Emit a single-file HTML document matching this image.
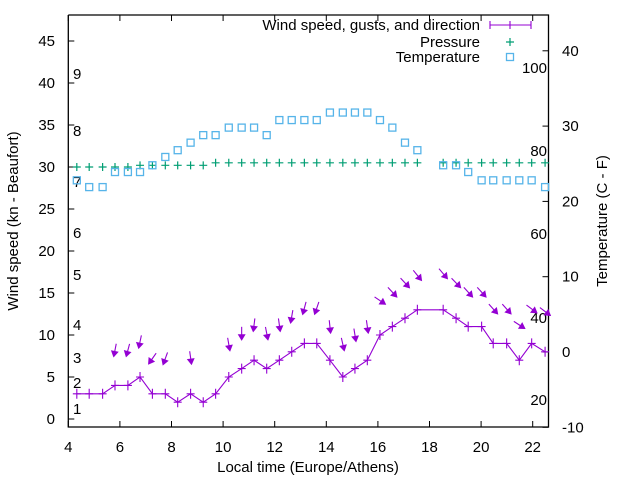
<!DOCTYPE html>
<html><head><meta charset="utf-8"><style>
html,body{margin:0;padding:0;background:#fff}
svg{display:block;font-family:"Liberation Sans",sans-serif}
</style></head><body>
<svg id="chart" width="640" height="480" viewBox="0 0 640 480" xmlns="http://www.w3.org/2000/svg"></svg>
<script>
const hours=[4.33,4.81,5.33,5.81,6.31,6.78,7.26,7.76,8.24,8.74,9.23,9.71,10.22,10.72,11.2,11.69,12.18,12.66,13.15,13.63,14.14,14.64,15.11,15.59,16.08,16.56,17.05,17.53,18.53,19.03,19.5,20.02,20.47,20.99,21.48,21.96,22.48];
const windSpeed=[3,3,3,4,4,5,3,3,2,3,2,3,5,6,7,6,7,8,9,9,7,5,6,7,10,11,12,13,13,12,11,11,9,9,7,9,8];
const gusts=[null,null,null,8.2,8.2,9.2,7.2,7.2,null,7.3,null,null,8.9,10.2,11.2,10.2,11.2,12.2,13.2,13.2,11,8.9,10,11,14.1,15.1,16.2,17.1,17.3,16.2,15.1,15.1,13.1,13.1,11.2,13.1,12.8];
const windDir=[0,0,0,11,15,12,35,20,0,352,0,0,350,0,7,349,352,10,15,19,354,347,351,352,304,317,317,321,320,316,318,318,318,318,303,307,307];
const pressure=[30.0,30.0,30.0,30.0,30.0,30.2,30.2,30.2,30.2,30.2,30.2,30.5,30.5,30.5,30.5,30.5,30.5,30.5,30.5,30.5,30.5,30.5,30.5,30.5,30.5,30.5,30.5,30.5,30.5,30.5,30.5,30.5,30.5,30.5,30.5,30.5,30.5];
const temperature=[22.8,21.9,21.9,23.9,23.9,23.9,24.8,25.9,26.8,27.8,28.8,28.8,29.8,29.8,29.8,28.8,30.8,30.8,30.8,30.8,31.8,31.8,31.8,31.8,30.8,29.8,27.8,26.8,24.8,24.8,23.9,22.8,22.8,22.8,22.8,22.8,21.9];
const xTicks=[4,6,8,10,12,14,16,18,20,22];
const yTicks=[0,5,10,15,20,25,30,35,40,45];
const y2Ticks=[-10,0,10,20,30,40];
const beaufortLabels=[["1",409],["2",383],["3",358],["4",325],["5",275],["6",233],["7",182],["8",131],["9",74]];
const fahrLabels=[["100",68],["80",151],["60",234],["40",318],["20",400]];

const L=68.3,R=548.5,T=15,B=427;
const X=h=>68.3+(h-4)*25.8;
const Y=v=>419-v*8.4;
const Y2=t=>352-t*7.53;
const svg=document.getElementById('chart');
const NS='http://www.w3.org/2000/svg';
function mk(tag,attrs,parent){const e=document.createElementNS(NS,tag);for(const k in attrs)e.setAttribute(k,attrs[k]);(parent||svg).appendChild(e);return e;}

// axes frame
const frame=mk('path',{d:`M${L},${T}V${B}H${R}V${T}H${L}`,fill:'none',stroke:'#000','stroke-width':1.3});



const gx=mk('g',{});


xTicks.forEach(h=>{
  const x=X(h);
  mk('path',{d:`M${x},${B}v-6M${x},${T}v6`,stroke:'#000','stroke-width':1},gx);
  const t=mk('text',{x:x,y:452,'text-anchor':'middle','font-size':15},gx);t.textContent=h;
  
  
});
const gy=mk('g',{});


yTicks.forEach(v=>{
  const y=Y(v);
  mk('path',{d:`M${L},${y}h6`,stroke:'#000','stroke-width':1},gy);
  const t=mk('text',{x:55,y:y+5,'text-anchor':'end','font-size':15},gy);t.textContent=v;
  
  
});
const gy2=mk('g',{});


y2Ticks.forEach(v=>{
  const y=Y2(v);
  mk('path',{d:`M${R},${y}h-6`,stroke:'#000','stroke-width':1},gy2);
  const t=mk('text',{x:562,y:y+5,'text-anchor':'start','font-size':15},gy2);t.textContent=v;
  
  
});
beaufortLabels.forEach(([s,y])=>{
  const t=mk('text',{x:73,y:y+5,'font-size':15});t.textContent=s;
  
  
});
fahrLabels.forEach(([s,y])=>{
  const t=mk('text',{x:547,y:y+5,'text-anchor':'end','font-size':15});t.textContent=s;
  
  
});
let t=mk('text',{x:308,y:472,'text-anchor':'middle','font-size':15});t.textContent='Local time (Europe/Athens)';

t=mk('text',{x:0,y:0,'text-anchor':'middle','font-size':15,transform:'translate(18,221) rotate(-90)'});t.textContent='Wind speed (kn - Beaufort)';

t=mk('text',{x:0,y:0,'text-anchor':'middle','font-size':15,transform:'translate(607,221) rotate(-90)'});t.textContent='Temperature (C - F)';


// pressure
const gp=mk('g',{stroke:'#009e73','stroke-width':1.2});


hours.forEach((h,i)=>{const x=X(h),y=Y(pressure[i]);
  const m=mk('path',{d:`M${x-4},${y}h8M${x},${y-4}v8`},gp);
  });
// temperature
const gt=mk('g',{stroke:'#56b4e9','stroke-width':1.3,fill:'none'});


hours.forEach((h,i)=>{const x=X(h),y=Y2(temperature[i]);
  const m=mk('rect',{x:x-3.5,y:y-3.5,width:7,height:7},gt);
  });
// wind
const gw=mk('g',{stroke:'#9400d3','stroke-width':1.1,fill:'none'});


const wl=mk('polyline',{points:hours.map((h,i)=>X(h)+','+Y(windSpeed[i])).join(' ')},gw);

hours.forEach((h,i)=>{const x=X(h),y=Y(windSpeed[i]);
  const m=mk('path',{d:`M${x-4},${y}h8M${x},${y-5}v10`},gw);
  });
// gust arrows
const ga=mk('g',{stroke:'#9400d3','stroke-width':1.1,fill:'#9400d3'});


hours.forEach((h,i)=>{
  if(gusts[i]==null)return;
  const cx=X(h),cy=Y(gusts[i]);
  const a=windDir[i]*Math.PI/180;
  const dx=-Math.sin(a),dy=Math.cos(a); // downwind, screen coords (down positive)
  const len=13;
  const x1=cx-dx*len/2,y1=cy-dy*len/2,x2=cx+dx*len/2,y2=cy+dy*len/2;
  const px=-dy,py=dx;
  const hx=x2-dx*5,hy=y2-dy*5;
  const g=mk('g',{},ga);
  
  
  mk('line',{x1:x1,y1:y1,x2:hx,y2:hy},g);
  mk('path',{d:`M${x2},${y2}L${hx+px*3},${hy+py*3}L${hx-px*3},${hy-py*3}Z`},g);
});
// legend
const lg=mk('g',{});


[['Wind speed, gusts, and direction',25],['Pressure',42],['Temperature',57]].forEach(([s,y],k)=>{
  const e=mk('text',{x:480,y:y+5,'text-anchor':'end','font-size':15},lg);e.textContent=s;
  
});
mk('path',{d:'M490,25H531M490,21v8M531,21v8M510,21v8',stroke:'#9400d3','stroke-width':1.1},lg);
mk('path',{d:'M506,42h8M510,38v8',stroke:'#009e73','stroke-width':1.2},lg);
mk('rect',{x:506.5,y:53.5,width:7,height:7,fill:'none',stroke:'#56b4e9','stroke-width':1.3},lg);
</script>
</body></html>
